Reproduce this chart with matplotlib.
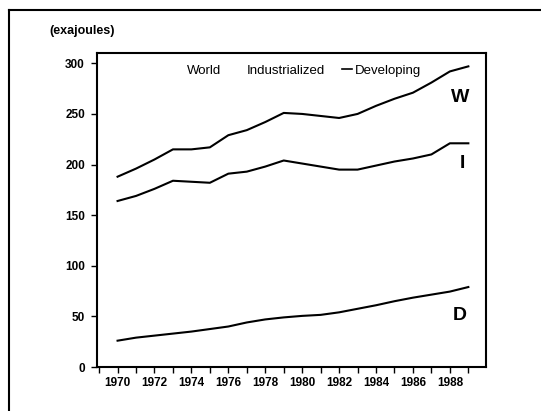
import matplotlib
matplotlib.use("Agg")
import matplotlib.pyplot as plt
from matplotlib.lines import Line2D

years = list(range(1970, 1990))
world = [188, 196, 205, 215, 215, 217, 229, 234, 242, 251, 250, 248, 246, 250, 258, 265, 271, 281, 292, 297]
industrialized = [164, 169, 176, 184, 183, 182, 191, 193, 198, 204, 201, 198, 195, 195, 199, 203, 206, 210, 221, 221]
developing = [26, 29, 31, 33, 35, 37.5, 40, 44, 47, 49, 50.5, 51.5, 54, 57.5, 61, 65, 68.5, 71.5, 74.5, 79]
yticks = [0, 50, 100, 150, 200, 250, 300]
xtick_labels = [str(y) for y in range(1970, 1989, 2)]

plt.rcParams['font.family'] = ['Liberation Sans', 'DejaVu Sans']

W, H = 541, 411
fig = plt.figure(figsize=(W / 100, H / 100), dpi=100)

def fx(px):
    return px / W

def fy(py):
    return 1 - py / H

left, right, top, bottom = 96.7, 485.7, 52.7, 367.0
ax = fig.add_axes([fx(left), fy(bottom), fx(right) - fx(left), fy(top) - fy(bottom)])

for s in (world, industrialized, developing):
    ax.plot(years, s, color='black', lw=1.5, solid_joinstyle='round')

ax.set_xlim(1968.87, 1989.94)
ax.set_ylim(0, 310.5)
ax.set_yticks(yticks)
ax.set_yticklabels([str(v) for v in yticks], fontsize=8.5, fontweight='bold')
ax.set_xticks(list(range(1970, 1989, 2)))
ax.set_xticklabels(xtick_labels, fontsize=8.5, fontweight='bold')
ax.set_xticks(list(range(1969, 1990)), minor=True)
ax.tick_params(axis='y', direction='out', length=4, width=1, pad=4.5)
ax.tick_params(axis='x', which='both', direction='out', length=4, width=1, pad=3.5)
for sp in ax.spines.values():
    sp.set_linewidth(1.5)

# series labels
ax.text(1988.55, 266, 'W', fontsize=14, fontweight='bold', ha='center', va='center')
ax.text(1988.7, 201, 'I', fontsize=14, fontweight='bold', ha='center', va='center')
ax.text(1988.55, 51, 'D', fontsize=14, fontweight='bold', ha='center', va='center')

# legend texts
fig.text(fx(186.5), fy(70.7), 'World', fontsize=9.5, ha='left', va='center')
fig.text(fx(246.7), fy(70.7), 'Industrialized', fontsize=9.5, ha='left', va='center')
fig.add_artist(Line2D([fx(341.5), fx(352)], [fy(69.5), fy(69.5)], color='black', lw=1.2))
fig.text(fx(355), fy(70.7), 'Developing', fontsize=9.5, ha='left', va='center')

# unit label
fig.text(fx(49), fy(31), '(exajoules)', fontsize=9, fontweight='bold', ha='left', va='center')

# outer frame (top and left)
fig.add_artist(Line2D([fx(9), fx(541)], [fy(10.5), fy(10.5)], color='black', lw=1.5))
fig.add_artist(Line2D([fx(9), fx(9)], [fy(10.5), fy(411)], color='black', lw=1.5))

fig.savefig('out.png', dpi=100)
